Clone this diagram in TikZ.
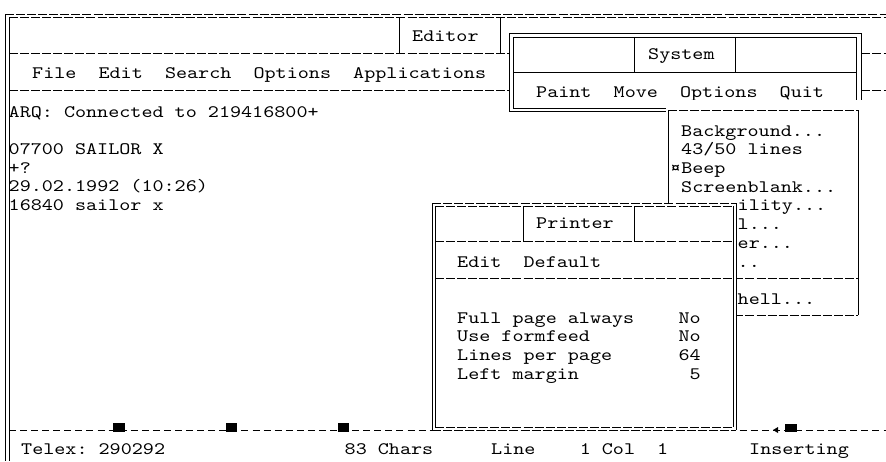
\documentclass[tikz,border=0pt]{standalone}
\usepackage{fontspec}
\newfontfamily\scr{lmmono10-regular.otf}[FakeStretch=1.205]
\begin{document}
\begin{tikzpicture}[x=1pt,y=-1pt,
  hl/.style={line width=0.7pt, dash pattern=on 9pt off 2.07pt},
  vl/.style={line width=0.7pt},
  sl/.style={line width=0.7pt},
  stl/.style={line width=0.7pt, dash pattern=on 7pt off 4.07pt},
  blk/.style={fill=black},
  cover/.style={fill=white},
  txt/.style={anchor=base west, inner sep=0pt, font={\scr\fontsize{17.5}{18}\selectfont}},
]
\useasboundingbox (0,0) rectangle (886,461);
\fill[white] (0,0) rectangle (886,461);

% ---------- Editor (main) window ----------
\draw[hl] (5,14.5) -- (886,14.5);
\draw[hl] (9,17.5) -- (886,17.5);
\draw[vl] (5,14.5) -- (5,461);
\draw[vl] (9,17.5) -- (9,461);
\draw[hl] (9,53) -- (886,53);
\draw[hl] (9,90.5) -- (886,90.5);
\draw[vl] (399,17.5) -- (399,53);
\draw[vl] (500,17.5) -- (500,53);
\draw[stl] (9,430) -- (886,430);
\fill[blk] (113,423) rectangle (125,432);
\fill[blk] (226,423) rectangle (237,432);
\fill[blk] (338,423) rectangle (349,432);
\fill[blk] (785,424) rectangle (797,432);
\fill[blk] (773,430) -- (778,427) -- (778,433) -- cycle;

\node[txt] (teditor) at (412,41.5) {Editor};
\node[txt] (tmenu) at (32,78.5) {File~~Edit~~Search~~Options~~Applications};
\node[txt] (tl1) at (8.5,117.5) {ARQ:~Connected~to~219416800+};
\node[txt] (tl2) at (8.5,154.5) {07700~SAILOR~X};
\node[txt] (tl3) at (8.5,173.2) {+?};
\node[txt] (tl4) at (8.5,191.9) {29.02.1992~(10:26)};
\node[txt] (tl5) at (8.5,210.6) {16840~sailor~x};

\node[txt] (st1) at (21,454) {Telex:~290292};
\node[txt] (st2) at (344.5,454) {83~Chars};
\node[txt] (st3) at (491,454) {Line~~~~1~Col~~1};
\node[txt] (st4) at (749,454) {Inserting};

% ---------- System window ----------
\fill[cover] (509,33) rectangle (861,111);
\draw[sl] (509,33) rectangle (861,111);
\draw[sl] (513,37) rectangle (856,108);
\draw[sl] (513,72) -- (856,72);
\draw[sl] (634,37) -- (634,72);
\draw[sl] (735,37) -- (735,72);
\node[txt] (systitle) at (648,59) {System};
\node[txt] (sysmenu) at (536,97.5) {Paint~~Move~~Options~~Quit};

% ---------- Options drop-down ----------
\fill[cover] (666,100) rectangle (863,318);
\draw[hl] (668,110) -- (858,110);
\draw[hl] (668,278) -- (858,278);
\draw[hl] (668,315) -- (858,315);
\draw[vl] (668,110) -- (668,315);
\draw[vl] (858,110) -- (858,315);
\node[txt] (o1) at (681,136) {Background...};
\node[txt] (o2) at (681,154.7) {43/50~lines};
\node[txt] (o3) at (670,173.4) {¤Beep};
\node[txt] (o4) at (681,192.1) {Screenblank...};
\node[txt] (o5) at (737.5,210) {ility...};
\node[txt] (o6) at (737.5,229) {l...};
\node[txt] (o7) at (737.5,248.5) {er...};
\node[txt] (o8) at (737.5,267) {..};
\node[txt] (o9) at (737.5,304) {hell...};

% ---------- Printer window ----------
\fill[cover] (432,203) rectangle (737,431);
\draw[hl] (432,203) -- (736,203);
\draw[hl] (435,206) -- (733,206);
\draw[hl] (432,430) -- (736,430);
\draw[hl] (435,427) -- (733,427);
\draw[vl] (432,203) -- (432,430);
\draw[vl] (435,206) -- (435,427);
\draw[vl] (736,203) -- (736,430);
\draw[vl] (733,206) -- (733,427);
\draw[hl] (435,241.5) -- (733,241.5);
\draw[hl] (435,278) -- (733,278);
\draw[vl] (523,206) -- (523,241.5);
\draw[vl] (634,206) -- (634,241.5);
\node[txt] (ptitle) at (536,228.5) {Printer};
\node[txt] (pmenu) at (457,267) {Edit~~Default};
\node[txt] (p1) at (457,323) {Full~page~always~~~~No};
\node[txt] (p2) at (457,341.7) {Use~formfeed~~~~~~~~No};
\node[txt] (p3) at (457,360.4) {Lines~per~page~~~~~~64};
\node[txt] (p4) at (457,379.1) {Left~margin~~~~~~~~~~5};
\end{tikzpicture}
\end{document}
